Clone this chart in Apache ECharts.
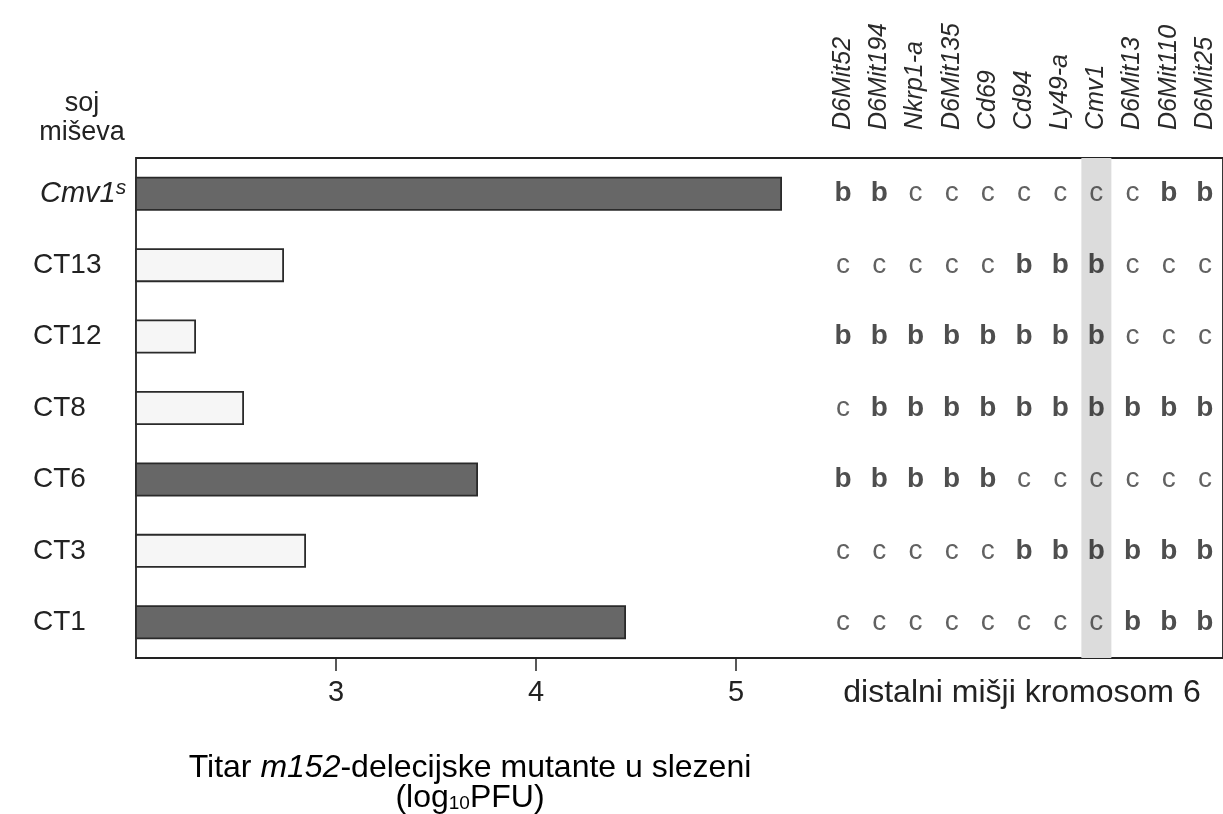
<!DOCTYPE html>
<html><head><meta charset="utf-8">
<script src="https://cdn.jsdelivr.net/npm/echarts@6/dist/echarts.min.js"></script>
<style>html,body{margin:0;padding:0;background:#fff}#c{width:1223px;height:814px}</style>
</head><body><div id="c"></div>
<script>
// ---- data ----
const strains = ['Cmv1s', 'CT13', 'CT12', 'CT8', 'CT6', 'CT3', 'CT1'];
const titers  = [5.23, 2.74, 2.30, 2.54, 3.71, 2.85, 4.45];
const resistant = [false, true, true, true, false, true, false]; // light bars = low titer
const markers = ['D6Mit52','D6Mit194','Nkrp1-a','D6Mit135','Cd69','Cd94','Ly49-a','Cmv1','D6Mit13','D6Mit110','D6Mit25'];
const genoCmv1s = ['b','b','c','c','c','c','c','c','c','b','b'];
const genoCT13  = ['c','c','c','c','c','b','b','b','c','c','c'];
const genoCT12  = ['b','b','b','b','b','b','b','b','c','c','c'];
const genoCT8   = ['c','b','b','b','b','b','b','b','b','b','b'];
const genoCT6   = ['b','b','b','b','b','c','c','c','c','c','c'];
const genoCT3   = ['c','c','c','c','c','b','b','b','b','b','b'];
const genoCT1   = ['c','c','c','c','c','c','c','c','b','b','b'];
const highlightMarker = 'Cmv1';
const xTicks = [3, 4, 5];

const genoRows = [genoCmv1s, genoCT13, genoCT12, genoCT8, genoCT6, genoCT3, genoCT1];
const genoData = [];
genoRows.forEach((row, r) => row.forEach((g, m) => genoData.push([markers[m], strains[r], g])));

const chart = echarts.init(document.getElementById('c'));
const font = 'Liberation Sans, Arial, sans-serif';
const ink = '#222';

chart.setOption({
  animation: false,
  backgroundColor: '#fff',
  grid: [
    {left: 136, top: 158, width: 1087, height: 500, show: true, borderColor: ink, borderWidth: 1.8, backgroundColor: 'transparent'},
    {left: 825, top: 158, width: 401, height: 500, show: false}
  ],
  xAxis: [
    {type: 'value', gridIndex: 0, min: 2, max: 2 + 1087/200, position: 'bottom',
     splitLine: {show: false},
     axisLine: {show: true, lineStyle: {color: ink, width: 1.8}},
     axisTick: {show: true, customValues: xTicks, length: 13, lineStyle: {color: ink, width: 1.5}},
     axisLabel: {customValues: xTicks, margin: 20, fontSize: 29, color: ink, fontFamily: font,
                 formatter: v => (xTicks.indexOf(v) >= 0 ? String(v) : '')}},
    {type: 'category', gridIndex: 1, data: markers, position: 'top', boundaryGap: true,
     axisLine: {show: false}, axisTick: {show: false},
     axisLabel: {rotate: 90, margin: 28, fontSize: 25, fontStyle: 'italic', color: '#2a2a2a', fontFamily: font, interval: 0}}
  ],
  yAxis: [
    {type: 'category', gridIndex: 0, data: strains, inverse: true,
     axisLine: {show: false}, axisTick: {show: false},
     axisLabel: {align: 'left', margin: 103, fontSize: 28, color: ink, fontFamily: font,
       formatter: v => v === 'Cmv1s' ? '{i|Cmv1}{s|s}' : v,
       rich: {i: {fontStyle: 'italic', fontSize: 29, color: ink, fontFamily: font, padding: [0,0,0,7]},
              s: {fontStyle: 'italic', fontSize: 21, color: ink, fontFamily: font, verticalAlign: 'top', padding: [0,0,12,0]}}}},
    {type: 'category', gridIndex: 1, data: strains, inverse: true, show: false},
    {type: 'value', gridIndex: 1, min: 0, max: 1, show: false}
  ],
  graphic: [
    {type: 'text', style: {text: 'soj\nmiševa', x: 82, y: 89, align: 'center', font: '27px ' + font, fill: ink, lineHeight: 29}},
    {type: 'text', style: {text: 'distalni mišji kromosom 6', x: 1022, y: 677, align: 'center', font: '32px ' + font, fill: ink}},
    {type: 'text', style: {
      text: '{n|Titar }{i|m152}{n|-delecijske mutante u slezeni}\n{n|(log}{sub|10}{n|PFU)}',
      x: 470, y: 753, align: 'center',
      rich: {
        n: {fontSize: 32, fontFamily: font, color: ink, lineHeight: 30},
        i: {fontSize: 32, fontFamily: font, fontStyle: 'italic', color: ink, lineHeight: 30},
        sub: {fontSize: 19, fontFamily: font, color: ink, verticalAlign: 'bottom', lineHeight: 30, padding: [12,0,0,0]}
      }}}
  ],
  series: [
    {type: 'bar', xAxisIndex: 0, yAxisIndex: 0, barWidth: 34,
     data: titers.map((v, i) => ({value: v, itemStyle: {
       color: resistant[i] ? '#f6f6f6' : '#676767', borderColor: '#2a2a2a', borderWidth: 1.8}}))},
    {type: 'bar', xAxisIndex: 1, yAxisIndex: 2, barWidth: 30, silent: true,
     data: markers.map(m => m === highlightMarker ? 1 : 0),
     itemStyle: {color: '#dcdcdc'}, z: 1},
    {type: 'scatter', xAxisIndex: 1, yAxisIndex: 1, symbolSize: 0, z: 3,
     data: genoData,
     label: {show: true, position: 'inside', fontFamily: font,
       formatter: p => p.value[2] === 'b' ? '{b|b}' : '{c|c}',
       rich: {b: {fontWeight: 'bold', fontSize: 28, color: ink, fontFamily: font},
              c: {fontSize: 28, color: '#3a3a3a', fontFamily: font}}}}
  ]
});
</script>
</body></html>
